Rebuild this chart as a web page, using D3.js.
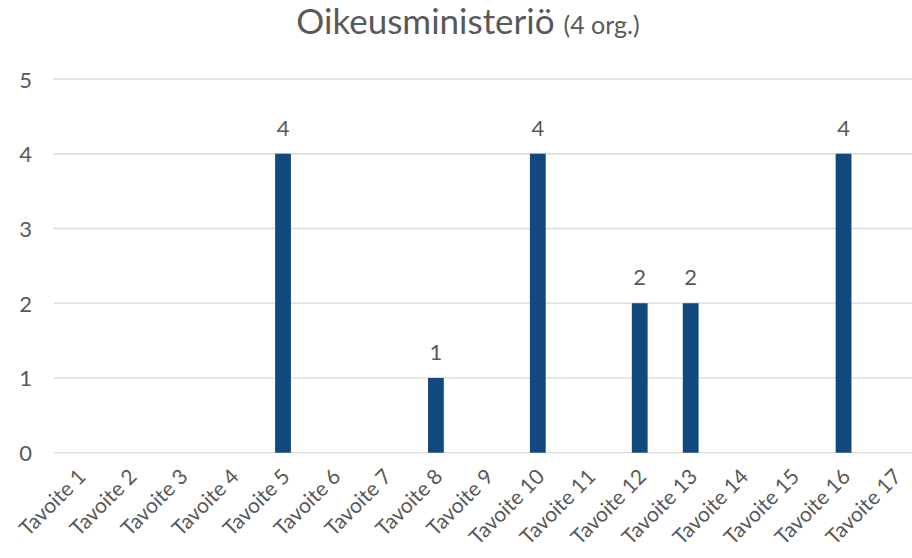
<!DOCTYPE html>
<html>
<head>
<meta charset="utf-8">
<script src="https://cdn.jsdelivr.net/npm/d3@7"></script>
<style>
  body { margin: 0; background: #fff; }
  text { font-family: Lato, "Open Sans", sans-serif; fill: #595959; }
</style>
</head>
<body>
<div id="viz"></div>
<script>
const categories = ["Tavoite 1", "Tavoite 2", "Tavoite 3", "Tavoite 4", "Tavoite 5", "Tavoite 6",
  "Tavoite 7", "Tavoite 8", "Tavoite 9", "Tavoite 10", "Tavoite 11", "Tavoite 12",
  "Tavoite 13", "Tavoite 14", "Tavoite 15", "Tavoite 16", "Tavoite 17"];
const values = [0, 0, 0, 0, 4, 0, 0, 1, 0, 4, 0, 2, 2, 0, 0, 4, 0];
const yTicks = [0, 1, 2, 3, 4, 5];

const width = 912, height = 558;

const svg = d3.select("#viz")
  .append("svg")
  .attr("width", width)
  .attr("height", height);

// plot area runs a bit past the right edge, like the cropped original
const x = d3.scaleBand()
  .domain(categories)
  .range([53.7, 920]);

const y = d3.scaleLinear()
  .domain([0, 5])
  .range([452.7, 79]);

const barW = x.step() * 0.31;

// gridlines
svg.append("g")
  .selectAll("line")
  .data(yTicks)
  .join("line")
  .attr("x1", 53.7)
  .attr("x2", 920)
  .attr("y1", d => y(d))
  .attr("y2", d => y(d))
  .attr("stroke", "#d9d9d9")
  .attr("stroke-width", 1.3);

// y labels
svg.append("g")
  .selectAll("text")
  .data(yTicks)
  .join("text")
  .attr("x", 32)
  .attr("y", d => y(d))
  .attr("text-anchor", "end")
  .attr("dominant-baseline", "central")
  .attr("font-size", 22)
  .text(d => d);

const data = categories.map((c, i) => ({ cat: c, value: values[i] }));

// bars
svg.append("g")
  .selectAll("rect")
  .data(data.filter(d => d.value > 0))
  .join("rect")
  .attr("x", d => x(d.cat) + x.bandwidth() / 2 - barW / 2)
  .attr("y", d => y(d.value))
  .attr("width", barW)
  .attr("height", d => y(0) - y(d.value))
  .attr("fill", "#11497f");

// data labels
svg.append("g")
  .selectAll("text")
  .data(data.filter(d => d.value > 0))
  .join("text")
  .attr("x", d => x(d.cat) + x.bandwidth() / 2)
  .attr("y", d => y(d.value) - 18)
  .attr("text-anchor", "middle")
  .attr("font-size", 22)
  .attr("fill", "#404040")
  .text(d => d.value);

// category labels, rotated
svg.append("g")
  .selectAll("text")
  .data(categories)
  .join("text")
  .attr("text-anchor", "end")
  .attr("font-size", 21)
  .attr("transform", d => `translate(${x(d) + x.bandwidth() / 2 + 8}, ${478}) rotate(-45)`)
  .text(d => d);

// title
const title = svg.append("text")
  .attr("x", 468)
  .attr("y", 34)
  .attr("text-anchor", "middle")
  .attr("font-size", 35);
title.append("tspan").text("Oikeusministeriö ");
title.append("tspan").attr("font-size", 25).text("(4 org.)");
</script>
</body>
</html>
